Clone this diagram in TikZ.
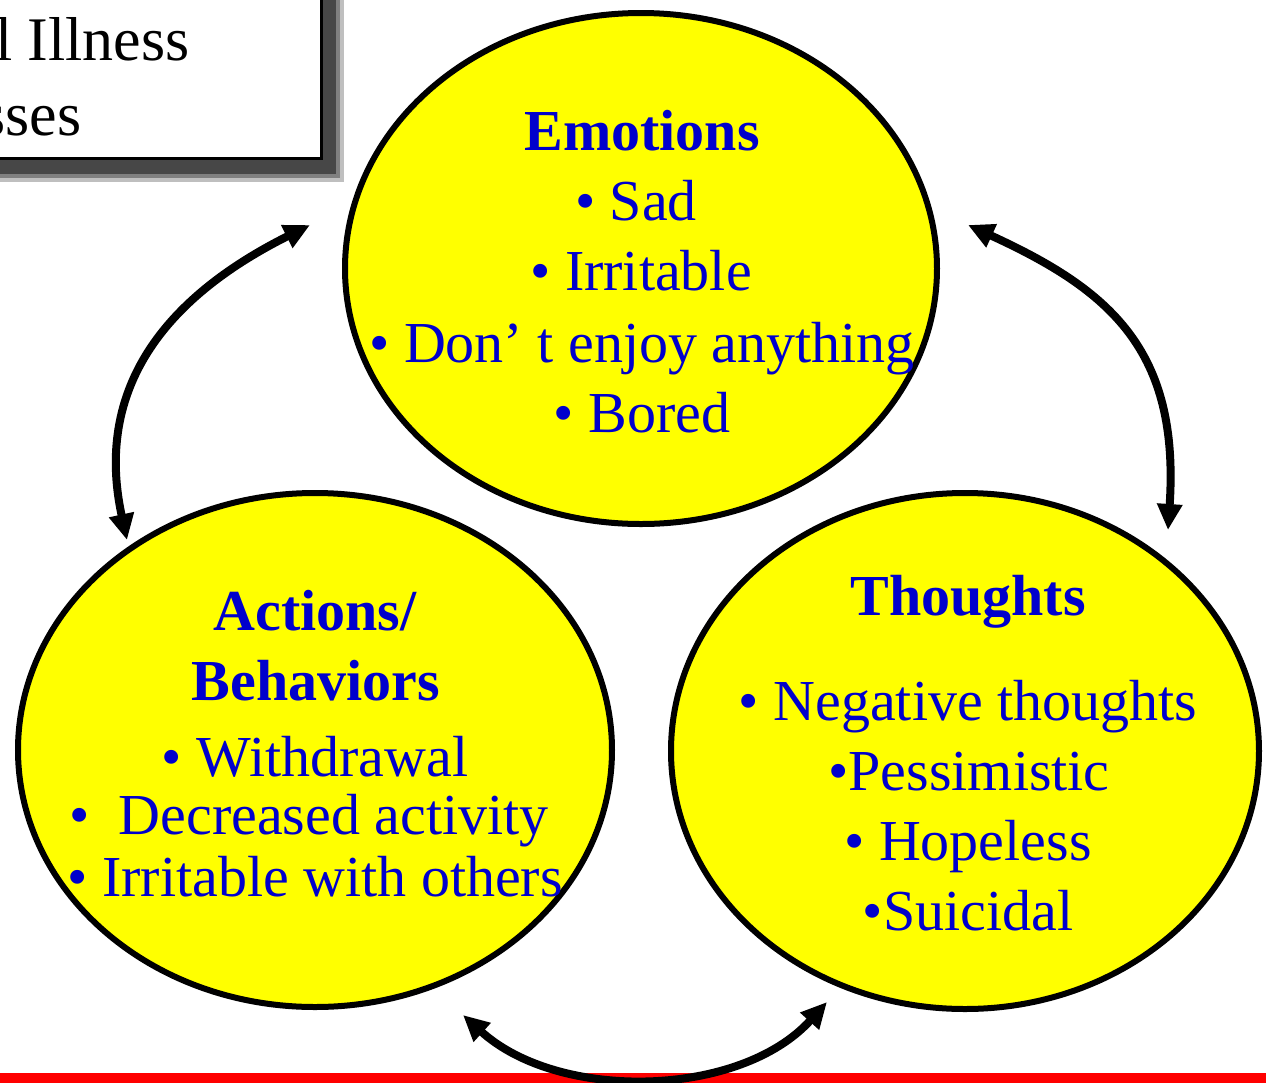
\documentclass[tikz,border=0pt]{standalone}
\usepackage{fontspec}
\setmainfont{Liberation Serif}
\usetikzlibrary{arrows.meta,shapes.geometric}
\definecolor{txtblue}{RGB}{0,0,204}
\definecolor{bubblefill}{RGB}{255,255,0}
\begin{document}
\begin{tikzpicture}[x=0.5pt,y=-0.5pt,
  bubble/.style={ellipse, draw=black, line width=3pt, fill=bubblefill, inner sep=0pt},
  head/.style={text=txtblue, font=\fontsize{29}{35}\selectfont\bfseries, anchor=base, inner sep=0pt},
  item/.style={text=txtblue, font=\fontsize{29}{35}\selectfont, anchor=base, inner sep=0pt},
  boxtext/.style={text=black, font=\fontsize{31}{37}\selectfont, anchor=base east, inner sep=0pt},
  link/.style={line width=4pt, {Triangle[length=13pt,width=12pt]}-{Triangle[length=13pt,width=12pt]}},
  ]
\useasboundingbox (0,0) rectangle (1266,1083);
\clip (0,0) rectangle (1266,1083);
\fill[white] (0,0) rectangle (1266,1083);

% title box with shadow (cut by the page edge)
\fill[black!25] (-20,-20) rectangle (344,182);
\fill[black!50] (-20,-20) rectangle (340,178);
\fill[black!72] (-20,-20) rectangle (336,174);
\draw[fill=white, line width=1.5pt] (-20,-20) rectangle (321,158);
\node[boxtext] (t1) at (190,60) {l Illness};
\node[boxtext] (t2) at (82,135) {sses};

% bottom red rule
\fill[red] (0,1073) rectangle (1266,1090);

% bubbles
\node[bubble, minimum width=296pt, minimum height=255.5pt] (emo) at (641,268.5) {};
\node[bubble, minimum width=297pt, minimum height=257pt] (act) at (315,750) {};
\node[bubble, minimum width=294pt, minimum height=258pt] (tho) at (965,751) {};

% Emotions text
\node[head] (e0) at (642,150) {Emotions};
\node[item] (e1) at (636,220) {• Sad};
\node[item] (e2) at (641,290) {• Irritable};
\node[item] (e3) at (642,362) {• Don’ t enjoy anything};
\node[item] (e4) at (642,432) {• Bored};

% Actions text
\node[head] (a0) at (315,630) {Actions/};
\node[head] (a0b) at (316,700) {Behaviors};
\node[item] (a1) at (315,776) {• Withdrawal};
\node[item] (a2) at (309,834) {•\ \ Decreased activity};
\node[item] (a3) at (315,896) {• Irritable with others};

% Thoughts text
\node[head] (h0) at (968,615) {Thoughts};
\node[item] (h1) at (968,720) {• Negative thoughts};
\node[item] (h2) at (969,790) {•Pessimistic};
\node[item] (h3) at (968,860) {• Hopeless};
\node[item] (h4) at (968,930) {•Suicidal};

% connectors
\coordinate (la) at (310,225);
\coordinate (lb) at (127,540);
\coordinate (ra) at (968,225);
\coordinate (rb) at (1168,530);
\coordinate (ba) at (463,1015);
\coordinate (bb) at (827,1002);
\draw[link] (la) .. controls (190,285) and (90,370) .. (lb);
\draw[link] (ra) .. controls (1110,290) and (1180,350) .. (rb);
\draw[link] (ba) .. controls (559,1102) and (740,1098) .. (bb);
\end{tikzpicture}
\end{document}
